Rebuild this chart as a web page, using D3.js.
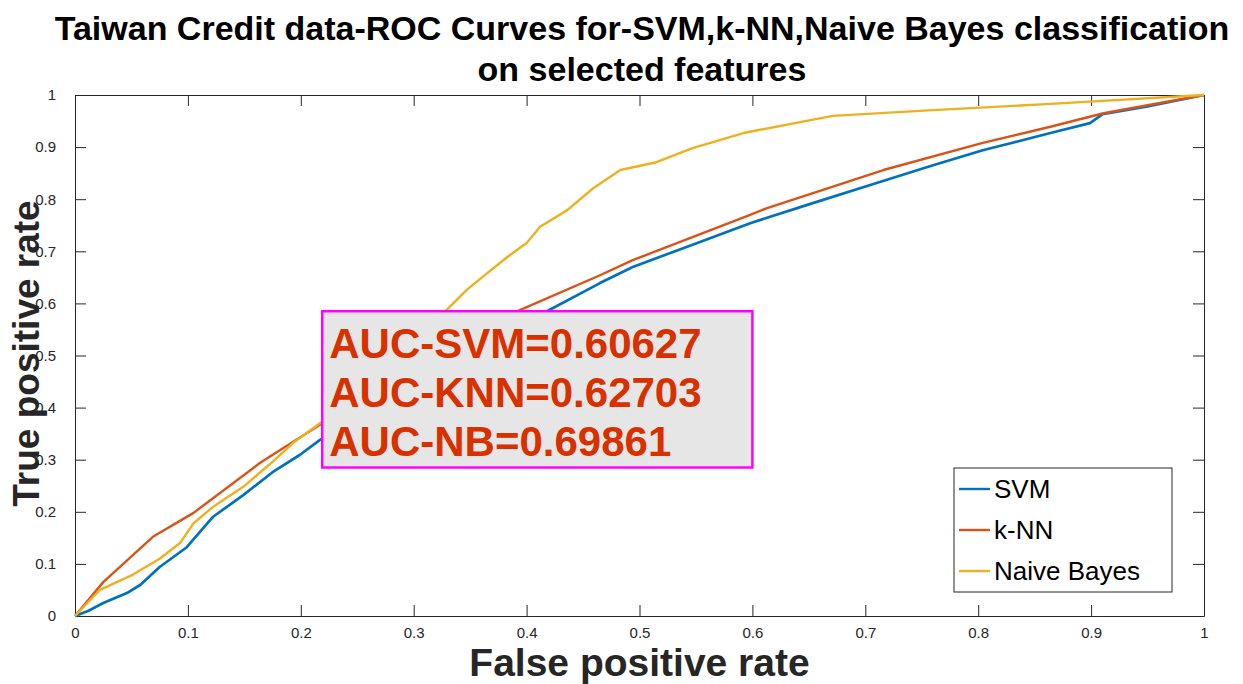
<!DOCTYPE html>
<html>
<head>
<meta charset="utf-8">
<script src="https://cdn.jsdelivr.net/npm/d3@7"></script>
<style>
	body { margin: 0; background: #fff; }
	text { font-family: "Liberation Sans", Arial, sans-serif; }
	.axis path, .axis line { stroke: #262626; }
</style>
</head>
<body>
<svg class="chart" width="1243" height="684"></svg>
<script>
const seriesNames = ['SVM', 'k-NN', 'Naive Bayes'];
const seriesColors = ['#0072bd', '#d95319', '#edb120'];
// [false positive rate, true positive rate]
const svmPoints = [
	[0, 0], [0.012, 0.01], [0.025, 0.025], [0.046, 0.044], [0.058, 0.06], [0.075, 0.094],
	[0.099, 0.132], [0.112, 0.165], [0.122, 0.19], [0.149, 0.232], [0.175, 0.276],
	[0.199, 0.309], [0.217, 0.338], [0.26, 0.395], [0.3, 0.445], [0.34, 0.5],
	[0.38, 0.55], [0.418, 0.585], [0.465, 0.639], [0.494, 0.67], [0.55, 0.715],
	[0.598, 0.754], [0.65, 0.79], [0.71, 0.831], [0.76, 0.865], [0.804, 0.894],
	[0.864, 0.927], [0.899, 0.946], [0.91, 0.963], [0.95, 0.978], [1, 1]
];
const knnPoints = [
	[0, 0], [0.025, 0.065], [0.069, 0.152], [0.105, 0.198], [0.164, 0.294],
	[0.217, 0.367], [0.3, 0.475], [0.394, 0.587], [0.465, 0.654], [0.494, 0.683],
	[0.598, 0.77], [0.613, 0.783], [0.716, 0.856], [0.804, 0.908], [0.864, 0.939],
	[0.911, 0.965], [1, 1]
];
const nbPoints = [
	[0, 0], [0.022, 0.05], [0.051, 0.079], [0.075, 0.11], [0.093, 0.14], [0.105, 0.178],
	[0.122, 0.209], [0.149, 0.248], [0.175, 0.296], [0.193, 0.332], [0.217, 0.37],
	[0.26, 0.44], [0.3, 0.53], [0.329, 0.587], [0.347, 0.626], [0.361, 0.651],
	[0.383, 0.689], [0.4, 0.716], [0.412, 0.747], [0.436, 0.779], [0.459, 0.821],
	[0.483, 0.856], [0.515, 0.871], [0.547, 0.898], [0.592, 0.927], [0.671, 0.96],
	[0.76, 0.971], [0.864, 0.983], [1, 1]
];
const tickValues = d3.range(0, 11).map(i => i / 10);
const aucLines = ['AUC-SVM=0.60627', 'AUC-KNN=0.62703', 'AUC-NB=0.69861'];

const margin = {top: 95, left: 75, bottom: 68, right: 39};
const width = 1243 - margin.left - margin.right;
const height = 684 - margin.top - margin.bottom;
const xScale = d3.scaleLinear().domain([0, 1]).range([0, width]);
const yScale = d3.scaleLinear().domain([0, 1]).range([height, 0]);
const tickFormat = v => v === 0 ? '0' : v === 1 ? '1' : d3.format('.1f')(v);

const svg = d3.select('.chart');
const chart = svg.append('g')
	.attr('transform', `translate(${margin.left}, ${margin.top})`);

// axes with inward ticks on all four sides
const styleTicks = g => g.selectAll('text')
	.style('font-size', '15px')
	.style('font-family', '"Liberation Sans", Arial, sans-serif')
	.attr('fill', '#262626');
chart.append('g')
	.attr('class', 'axis')
	.attr('transform', `translate(0, ${height})`)
	.call(d3.axisBottom(xScale).tickValues(tickValues).tickFormat(tickFormat)
		.tickSizeInner(-11).tickSizeOuter(0).tickPadding(16))
	.call(styleTicks)
	.selectAll('text').attr('dy', '0.4em');
chart.append('g')
	.attr('class', 'axis')
	.call(d3.axisLeft(yScale).tickValues(tickValues).tickFormat(tickFormat)
		.tickSizeInner(-11).tickSizeOuter(0).tickPadding(19))
	.call(styleTicks);
chart.append('g')
	.attr('class', 'axis')
	.call(d3.axisTop(xScale).tickValues(tickValues).tickFormat('')
		.tickSizeInner(-11).tickSizeOuter(0));
chart.append('g')
	.attr('class', 'axis')
	.attr('transform', `translate(${width}, 0)`)
	.call(d3.axisRight(yScale).tickValues(tickValues).tickFormat('')
		.tickSizeInner(-11).tickSizeOuter(0));

const line = d3.line()
	.x(d => xScale(d[0]))
	.y(d => yScale(d[1]));
const allSeries = [svmPoints, knnPoints, nbPoints];
chart.selectAll('.roc')
	.data(allSeries)
	.enter()
	.append('path')
	.attr('class', 'roc')
	.attr('d', line)
	.attr('fill', 'none')
	.attr('stroke', (d, i) => seriesColors[i])
	.attr('stroke-width', (d, i) => i === 0 ? 2.7 : 2.4)
	.attr('stroke-linejoin', 'round');

// AUC text box
const box = {x0: 0.219, x1: 0.6, y0: 0.585, y1: 0.285};
chart.append('rect')
	.attr('x', xScale(box.x0))
	.attr('y', yScale(box.y0))
	.attr('width', xScale(box.x1) - xScale(box.x0))
	.attr('height', yScale(box.y1) - yScale(box.y0))
	.attr('fill', '#e6e6e6')
	.attr('stroke', '#ff00ff')
	.attr('stroke-width', 2.5);
chart.selectAll('.auc')
	.data(aucLines)
	.enter()
	.append('text')
	.attr('class', 'auc')
	.attr('x', xScale(box.x0) + 7)
	.attr('y', (d, i) => yScale(box.y0) + 47 + i * 49)
	.attr('fill', '#d93000')
	.attr('font-size', 42)
	.attr('font-weight', 'bold')
	.text(d => d);

// legend
const legend = chart.append('g')
	.attr('transform', `translate(${width - 250}, ${height - 148})`);
legend.append('rect')
	.attr('width', 218)
	.attr('height', 124)
	.attr('fill', '#fff')
	.attr('stroke', '#262626')
	.attr('stroke-width', 1);
const item = legend.selectAll('.item')
	.data(seriesNames)
	.enter()
	.append('g')
	.attr('transform', (d, i) => `translate(0, ${21 + i * 41})`);
item.append('line')
	.attr('x1', 5).attr('x2', 36)
	.attr('stroke', (d, i) => seriesColors[i])
	.attr('stroke-width', 2.4);
item.append('text')
	.attr('x', 40)
	.attr('dy', '0.36em')
	.attr('font-size', 26)
	.attr('fill', '#000')
	.text(d => d);

// titles
svg.append('text')
	.attr('x', 642).attr('y', 40)
	.attr('text-anchor', 'middle')
	.attr('font-size', 34).attr('font-weight', 'bold')
	.text('Taiwan Credit data-ROC Curves for-SVM,k-NN,Naive Bayes classification');
svg.append('text')
	.attr('x', 642).attr('y', 81)
	.attr('text-anchor', 'middle')
	.attr('font-size', 34).attr('font-weight', 'bold')
	.text('on selected features');
svg.append('text')
	.attr('x', margin.left + width / 2).attr('y', 676)
	.attr('text-anchor', 'middle')
	.attr('font-size', 39).attr('font-weight', 'bold')
	.attr('fill', '#262626')
	.text('False positive rate');
svg.append('text')
	.attr('transform', `translate(39, ${margin.top + height / 2 - 2}) rotate(-90)`)
	.attr('text-anchor', 'middle')
	.attr('font-size', 37).attr('font-weight', 'bold')
	.attr('fill', '#262626')
	.text('True positive rate');
</script>
</body>
</html>
